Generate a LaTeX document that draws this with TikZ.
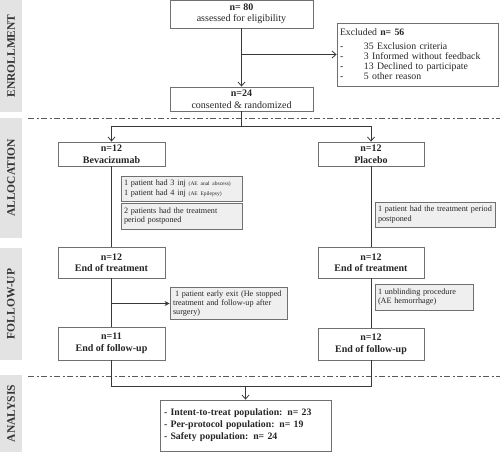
\documentclass[tikz,border=0pt]{standalone}
\usepackage{fontspec}
\setmainfont{Liberation Serif}
\usetikzlibrary{arrows.meta,positioning,calc}
\definecolor{boxline}{HTML}{707070}
\definecolor{conline}{HTML}{383838}
\definecolor{grayfill}{HTML}{EFEFEF}
\definecolor{sidefill}{HTML}{E3E3E3}
\begin{document}
\begin{tikzpicture}[x=1pt,y=-1pt,
  mainbox/.style={draw=boxline, line width=0.8pt, fill=white, align=center, inner sep=1pt,
     font=\fontsize{10}{11.5}\selectfont, text=black!85},
  notebox/.style={draw=boxline, line width=0.8pt, fill=grayfill, align=left, inner sep=3pt,
     font=\fontsize{8.2}{9.4}\selectfont, text=black!85},
  sidetext/.style={rotate=90, font=\bfseries\fontsize{11.5}{12}\selectfont, text=black!80},
  conn/.style={draw=conline, line width=0.8pt},
  openarrow/.style={conn, -{Straight Barb[length=4pt,width=7pt]}},
  fillarrow/.style={conn, -{Stealth[length=5pt,width=5pt]}},
  sep/.style={draw=black!65, line width=0.8pt, dash pattern=on 6pt off 2.5pt on 2pt off 2.5pt}
]
\useasboundingbox (0,0) rectangle (500,452);

% side labels
\fill[sidefill] (0,0) rectangle (22,112);
\fill[sidefill] (0,118) rectangle (22,238);
\fill[sidefill] (0,248) rectangle (22,360);
\fill[sidefill] (0,375) rectangle (22,452);
\node[sidetext] (lenr) at (11,56) {ENROLLMENT};
\node[sidetext] (lall) at (11,178) {ALLOCATION};
\node[sidetext] (lfol) at (11,304) {FOLLOW-UP};
\node[sidetext] (lana) at (11,413.5) {ANALYSIS};

% separators
\coordinate (s1a) at (28,118); \coordinate (s1b) at (500,118);
\coordinate (s2a) at (28,376); \coordinate (s2b) at (500,376);
\draw[sep] (s1a) -- (s1b);
\draw[sep] (s2a) -- (s2b);

% boxes
\node[mainbox, minimum width=143pt, minimum height=28pt] (assess) at (241.5,14)
  {\textbf{n= 80}\\assessed for eligibility};
\node[notebox, fill=white, minimum width=161pt, minimum height=63pt, text width=155pt,
  inner sep=3pt, font=\fontsize{9.8}{10.2}\selectfont] (excl) at (417.5,54.5)
  {Excluded \textbf{n= 56}\\[3pt]
   \makebox[24pt][l]{-}35 Exclusion criteria\\
   \makebox[24pt][l]{-}3 Informed without feedback\\
   \makebox[24pt][l]{-}13 Declined to participate\\
   \makebox[24pt][l]{-}5 other reason};
\node[mainbox, minimum width=143pt, minimum height=24pt] (cons) at (241.5,99)
  {\textbf{n=24}\\consented \& randomized};

\node[mainbox, minimum width=107pt, minimum height=24pt, font=\bfseries\fontsize{10}{11.5}\selectfont] (bev) at (111.5,154)
  {n=12\\Bevacizumab};
\node[mainbox, minimum width=106pt, minimum height=24pt, font=\bfseries\fontsize{10}{11.5}\selectfont] (plac) at (371,154)
  {n=12\\Placebo};

\node[notebox, minimum width=121pt, minimum height=25pt, text width=115pt] (inj) at (181.5,188.5)
  {1 patient had 3 inj {\fontsize{5.5}{6}\selectfont(AE anal abscess)}\\
   1 patient had 4 inj {\fontsize{5.5}{6}\selectfont(AE Epilepsy)}};
\node[notebox, minimum width=121pt, minimum height=26pt, text width=115pt] (postL) at (181.5,216)
  {2 patients had the treatment\\period postponed};
\node[notebox, minimum width=120pt, minimum height=25pt, text width=114pt] (postR) at (435,214.5)
  {1 patient had the treatment period\\postponed};

\node[mainbox, minimum width=107pt, minimum height=31pt, font=\bfseries\fontsize{10}{11.5}\selectfont] (eotL) at (111.5,262.5)
  {n=12\\End of treatment};
\node[mainbox, minimum width=106pt, minimum height=31pt, font=\bfseries\fontsize{10}{11.5}\selectfont] (eotR) at (371,262.5)
  {n=12\\End of treatment};

\node[notebox, minimum width=117pt, minimum height=31pt, text width=111pt] (exit) at (228.5,303.5)
  {\hspace*{2pt}1 patient early exit (He stopped\\treatment and follow-up after\\surgery)};
\node[notebox, minimum width=98pt, minimum height=26pt, text width=92pt] (unbl) at (424,297)
  {1 unblinding procedure\\(AE hemorrhage)};

\node[mainbox, minimum width=107pt, minimum height=33pt, font=\bfseries\fontsize{10}{11.5}\selectfont] (eofL) at (111.5,343.5)
  {n=11\\End of follow-up};
\node[mainbox, minimum width=106pt, minimum height=32pt, font=\bfseries\fontsize{10}{11.5}\selectfont] (eofR) at (371,344)
  {n=12\\End of follow-up};

\node[mainbox, minimum width=171pt, minimum height=51pt, text width=163pt, align=left,
  font=\bfseries\fontsize{9.8}{12}\selectfont] (ana) at (245.5,425.5)
  {- Intent-to-treat population: n= 23\\
   - Per-protocol population: n= 19\\
   - Safety population: n= 24};

% connectors
\coordinate (branch) at (assess.south |- excl.west);
\draw[openarrow] (assess.south) -- (cons.north);
\draw[openarrow] (branch) -- (excl.west);
\coordinate (split) at ($(cons.south)+(0,15)$);
\draw[conn] (cons.south) -- (split);
\draw[openarrow] (split) -| (bev.north);
\draw[openarrow] (split) -| (plac.north);
\draw[conn] (bev.south) -- (eotL.north);
\draw[conn] (plac.south) -- (eotR.north);
\draw[conn] (eotL.south) -- (eofL.north);
\draw[conn] (eotR.south) -- (eofR.north);
\coordinate (exitstart) at (eotL.south |- exit.west);
\draw[fillarrow] (exitstart) -- (exit.west);
\coordinate (mL) at ($(eofL.south)+(0,26)$);
\coordinate (mR) at (eofR.south |- mL);
\coordinate (mC) at (ana.north |- mL);
\draw[conn] (eofL.south) -- (mL) -- (mR) -- (eofR.south);
\draw[openarrow] (mC) -- (ana.north);
\end{tikzpicture}
\end{document}
